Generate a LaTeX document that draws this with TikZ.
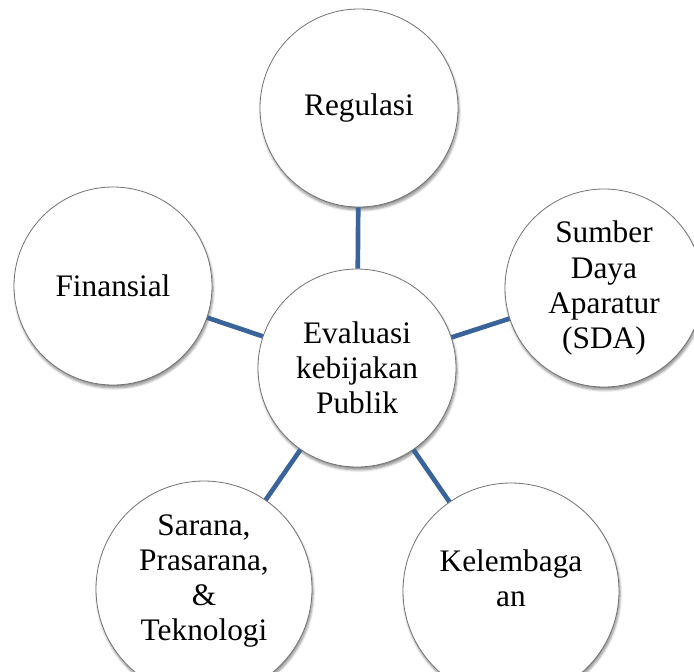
\documentclass[tikz,border=0pt]{standalone}
\usepackage{fontspec}
\setmainfont{Liberation Serif}
\usetikzlibrary{shadows.blur, positioning}
\definecolor{linkblue}{HTML}{3A6399}

\begin{document}
\begin{tikzpicture}[
    x=0.75pt, y=-0.75pt,
    bubble/.style={circle, draw=black!55, line width=0.6pt, fill=white, inner sep=0pt,
        minimum size=148.5pt, align=center, font=\fontsize{23.5}{26.3}\selectfont,
        blur shadow={shadow xshift=0.8pt, shadow yshift=-2.2pt, shadow opacity=45, shadow blur steps=6}},
    bigbubble/.style={bubble, minimum size=162pt},
    link/.style={draw=linkblue, line width=3.5pt}
]
    \useasboundingbox (0,0) rectangle (694,672);

    \node[bubble] (pusat) at (357, 368) {Evaluasi\\kebijakan\\Publik};

    \node[bubble] (regulasi) at (359, 108) {Regulasi};
    \node[bubble] (sda) at (604, 288) {Sumber\\Daya\\Aparatur\\(SDA)};
    \node[bigbubble] (lembaga) at (511, 591) {Kelembaga\\an\\[-7pt]};
    \node[bigbubble] (sarana) at (204, 589) {Sarana,\\Prasarana,\\\&\\Teknologi\\[-9pt]};
    \node[bubble] (finansial) at (113, 286) {Finansial};

    % garis penghubung ke lingkaran tengah
    \draw[link] (pusat) -- (regulasi);
    \draw[link] (pusat) -- (sda);
    \draw[link] (pusat) -- (lembaga);
    \draw[link] (pusat) -- (sarana);
    \draw[link] (pusat) -- (finansial);
\end{tikzpicture}
\end{document}
